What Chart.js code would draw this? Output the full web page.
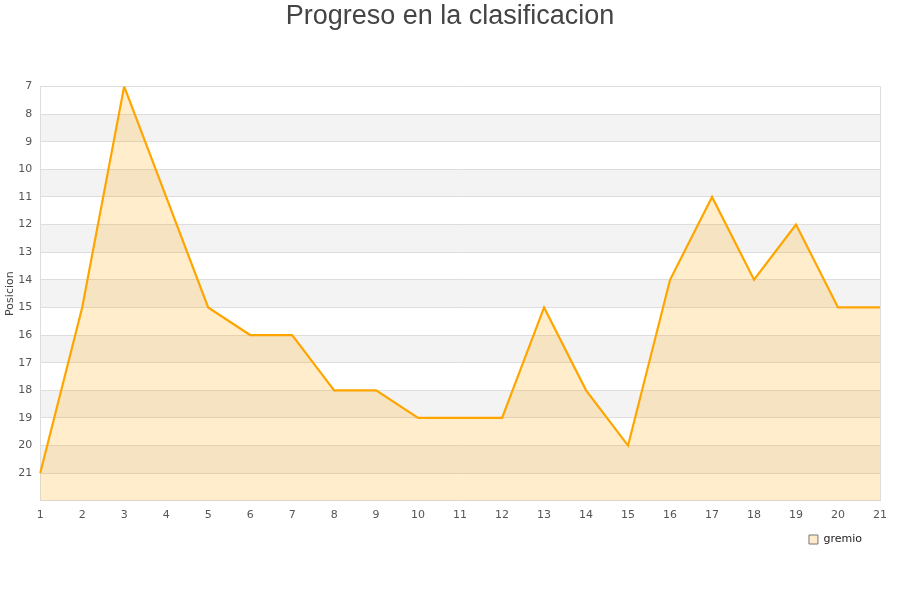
<!DOCTYPE html>
<html><head><meta charset="utf-8">
<script src="https://cdn.jsdelivr.net/npm/chart.js@4/dist/chart.umd.min.js"></script>
<style>html,body{margin:0;padding:0;background:#fff}#wrap{width:900px;height:600px}</style>
</head><body><div id="wrap"><canvas id="c" width="900" height="600"></canvas></div>
<script>
const jornadas = ['1','2','3','4','5','6','7','8','9','10','11','12','13','14','15','16','17','18','19','20','21'];
const gremio = [21,15,7,11,15,16,16,18,18,19,19,19,15,18,20,14,11,14,12,15,15];
const yMin = 7, yMax = 22;

const bands = {
  id: 'bands',
  afterLayout(chart) {
    if (chart.legend) { chart.legend.left -= 14; chart.legend.right -= 14; }
    if (chart.titleBlock) { chart.titleBlock.left += 10; chart.titleBlock.right += 10; }
  },
  beforeDraw(chart) {
    const {ctx, chartArea: a, scales: {y}} = chart;
    ctx.save();
    ctx.fillStyle = '#f3f3f3';
    for (let v = yMin; v < yMax; v++) {
      if (v % 2 === 0) {
        const p1 = y.getPixelForValue(v), p2 = y.getPixelForValue(v + 1);
        ctx.fillRect(a.left, Math.min(p1, p2), a.right - a.left, Math.abs(p2 - p1));
      }
    }
    ctx.restore();
  }
};

new Chart(document.getElementById('c'), {
  type: 'line',
  data: {
    labels: jornadas,
    datasets: [{
      label: 'gremio',
      data: gremio,
      borderColor: '#FFA500',
      backgroundColor: 'rgba(255,165,0,0.2)',
      borderWidth: 2.2,
      pointRadius: 0,
      tension: 0,
      fill: {value: yMax}
    }]
  },
  options: {
    responsive: false,
    animation: false,
    layout: {padding: {left: 0, right: 20, top: 0, bottom: 45}},
    plugins: {
      title: {
        display: true,
        text: 'Progreso en la clasificacion',
        color: '#444',
        font: {family: 'Liberation Sans', size: 27, weight: 'normal'},
        padding: {top: 0, bottom: 54}
      },
      legend: {
        position: 'bottom',
        align: 'end',
        labels: {
          color: '#222',
          padding: 4,
          font: {family: 'DejaVu Sans', size: 11},
          boxWidth: 9, boxHeight: 9,
          generateLabels: () => [{text: 'gremio', fillStyle: '#FFEBCC', strokeStyle: '#777', lineWidth: 1, fontColor: '#222'}]
        }
      },
      tooltip: {enabled: false}
    },
    scales: {
      x: {
        type: 'category',
        offset: false,
        grid: {
          drawTicks: false,
          color: (c) => (c.index === 0 || c.index === jornadas.length - 1) ? '#dddddd' : 'rgba(0,0,0,0)'
        },
        border: {display: true, color: '#dddddd'},
        ticks: {color: '#555', font: {family: 'DejaVu Sans', size: 11}, padding: 8, maxRotation: 0, autoSkip: false}
      },
      y: {
        reverse: true,
        min: yMin, max: yMax,
        grid: {color: '#dddddd', drawTicks: false},
        border: {display: true, color: '#dddddd'},
        title: {display: true, text: 'Posicion', color: '#444', font: {family: 'DejaVu Sans', size: 11}, padding: {top: 4, bottom: -7}},
        ticks: {
          stepSize: 1, color: '#555', font: {family: 'DejaVu Sans', size: 11}, padding: 8,
          callback: (v) => v === yMax ? '' : v
        }
      }
    }
  },
  plugins: [bands]
});
</script></body></html>
